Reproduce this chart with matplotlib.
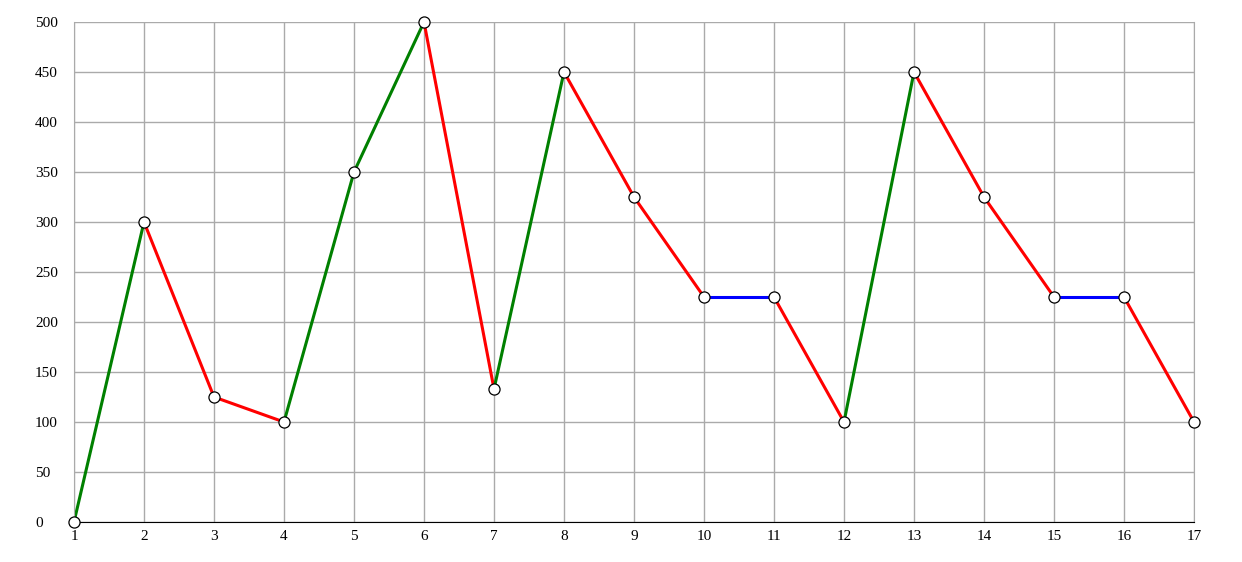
import matplotlib
matplotlib.use("Agg")
import matplotlib.pyplot as plt

x_values = list(range(1, 18))
y_values = [0, 300, 125, 100, 350, 500, 133, 450, 325, 225, 225, 100, 450, 325, 225, 225, 100]

plt.rcParams['font.family'] = ['Liberation Serif', 'DejaVu Serif']

fig = plt.figure(figsize=(12.42, 5.62), dpi=100)
ax = fig.add_axes([74 / 1242, 40 / 562, 1120 / 1242, 500 / 562])

# colour each segment by direction
for i in range(len(x_values) - 1):
    y0, y1 = y_values[i], y_values[i + 1]
    if y1 > y0:
        c = 'green'
    elif y1 < y0:
        c = 'red'
    else:
        c = 'blue'
    ax.plot(x_values[i:i + 2], [y0, y1], color=c, linewidth=2.2, zorder=2, solid_capstyle='butt')

ax.plot(x_values, y_values, linestyle='none', marker='o', markersize=8,
        markerfacecolor='white', markeredgecolor='black', markeredgewidth=0.9, zorder=3, clip_on=False)

ax.set_xlim(1, 17)
ax.set_ylim(0, 500)
ax.set_xticks(x_values)
ax.set_yticks(range(0, 501, 50))
ax.grid(True, color='#aaaaaa', linewidth=1)
ax.set_axisbelow(True)
ax.spines['top'].set_visible(False)
ax.spines['right'].set_color('#aaaaaa')
ax.spines['left'].set_color('#aaaaaa')
ax.spines['bottom'].set_color('#000000')
ax.tick_params(axis='both', length=0, labelsize=11)
ax.tick_params(axis='x', pad=6)
ax.tick_params(axis='y', pad=28)
for lab in ax.get_yticklabels():
    lab.set_horizontalalignment('left')

fig.savefig('out.png', dpi=100)
